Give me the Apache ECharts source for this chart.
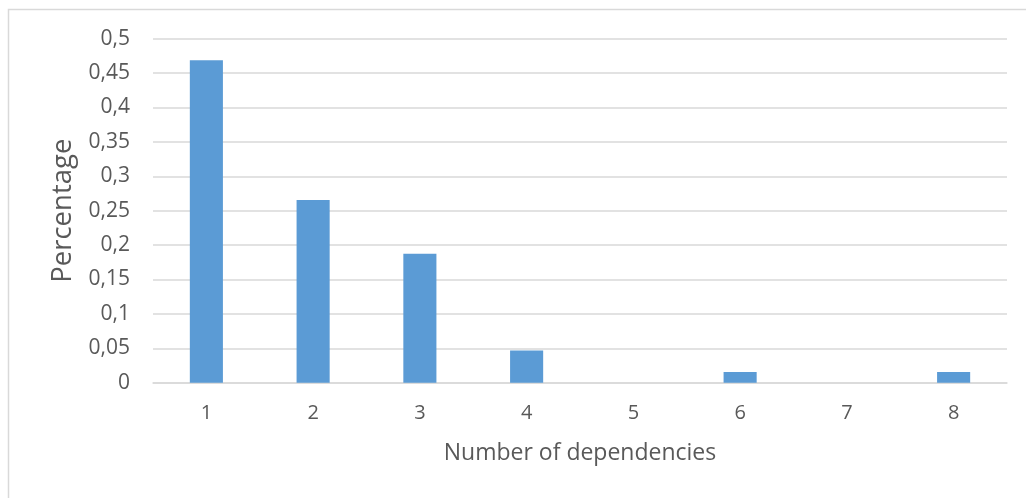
<!DOCTYPE html>
<html>
<head>
<meta charset="utf-8">
<script src="https://cdn.jsdelivr.net/npm/echarts@6/dist/echarts.min.js"></script>
<style>
  html, body { margin: 0; padding: 0; background: #fff; }
  #chart { width: 1026px; height: 498px; }
</style>
</head>
<body>
<div id="chart"></div>
<script>
// Share of items by number of dependencies
const categories = ['1', '2', '3', '4', '5', '6', '7', '8'];
const shares = [0.46875, 0.265625, 0.1875, 0.046875, 0, 0.015625, 0, 0.015625];
const yTicks = { min: 0, max: 0.5, interval: 0.05 };

const textColor = '#595959';
const gridColor = '#d9d9d9';
const font = '"Open Sans", Lato, sans-serif';

const chart = echarts.init(document.getElementById('chart'), null, { renderer: 'canvas' });

chart.setOption({
  animation: false,
  backgroundColor: '#ffffff',
  graphic: [{
    type: 'rect',
    shape: { x: 8.5, y: 9.5, width: 1100, height: 600 },
    style: { fill: 'none', stroke: gridColor, lineWidth: 1.5 },
    silent: true
  }],
  grid: { left: 153, right: 19, top: 38.7, bottom: 115.3, containLabel: false },
  xAxis: {
    type: 'category',
    data: categories,
    name: 'Number of dependencies',
    nameLocation: 'middle',
    nameGap: 59,
    nameTextStyle: { color: textColor, fontSize: 23, fontFamily: font },
    axisLine: { show: true, lineStyle: { color: gridColor, width: 1.5 } },
    axisTick: { show: false },
    axisLabel: { color: textColor, fontSize: 20, fontFamily: font, margin: 21 }
  },
  yAxis: {
    type: 'value',
    min: yTicks.min,
    max: yTicks.max,
    interval: yTicks.interval,
    name: 'Percentage',
    nameLocation: 'middle',
    nameRotate: 90,
    nameGap: 73,
    nameTextStyle: { color: textColor, fontSize: 27.5, fontFamily: font },
    axisLine: { show: false },
    axisTick: { show: false },
    splitLine: { lineStyle: { color: gridColor, width: 1.5 } },
    axisLabel: {
      color: textColor, fontSize: 21, fontFamily: font, margin: 23,
      formatter: v => String(+v.toFixed(2)).replace('.', ',')
    }
  },
  series: [{
    type: 'bar',
    data: shares,
    barWidth: '31%',
    itemStyle: { color: '#5b9bd5' }
  }]
});
</script>
</body>
</html>
